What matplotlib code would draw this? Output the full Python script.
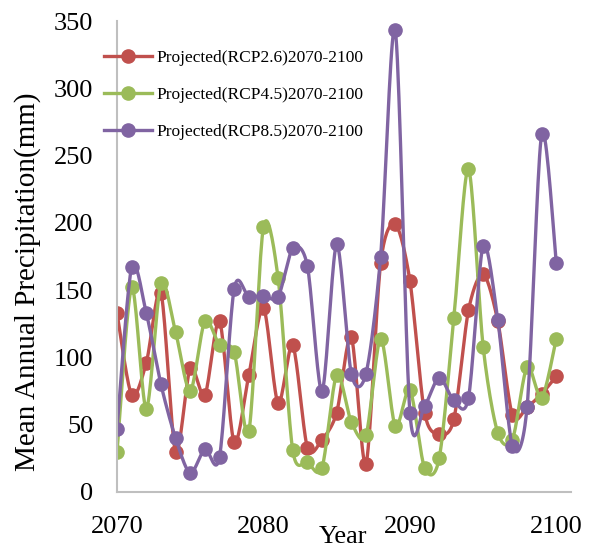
import numpy as np
import matplotlib.pyplot as plt

# mean annual precipitation (mm)
years = list(range(2070, 2101))
rcp26 = [133, 72, 96, 148, 30, 92, 72, 127, 37, 87, 137, 66, 109, 33, 39, 59,
         115, 21, 170, 199, 157, 59, 43, 54, 135, 162, 127, 57, 63, 73, 86]
rcp45 = [30, 152, 62, 155, 119, 75, 127, 109, 104, 45, 197, 159, 31, 22, 18, 87,
         52, 42, 114, 49, 76, 18, 25, 129, 240, 108, 44, 39, 93, 70, 114]
rcp85 = [47, 167, 133, 80, 40, 14, 32, 26, 151, 145, 146, 145, 181, 168, 75, 184,
         88, 88, 175, 343, 59, 64, 85, 68, 70, 183, 128, 34, 63, 266, 170]
labels = ["Projected(RCP2.6)2070-2100", "Projected(RCP4.5)2070-2100",
          "Projected(RCP8.5)2070-2100"]
colors = ["#c0504d", "#9bbb59", "#8064a2"]


def smooth(x, y, n=20, k=1 / 7):
    # bezier curve through the points, like Excel's smoothed line
    x = np.asarray(x, float)
    y = np.asarray(y, float)
    xs, ys = [], []
    last = len(x) - 1
    for i in range(last):
        a, b = max(i - 1, 0), min(i + 2, last)
        c1x = x[i] + (x[i + 1] - x[a]) * k
        c1y = y[i] + (y[i + 1] - y[a]) * k
        c2x = x[i + 1] - (x[b] - x[i]) * k
        c2y = y[i + 1] - (y[b] - y[i]) * k
        t = np.linspace(0, 1, n)
        xs.extend((1 - t)**3 * x[i] + 3 * (1 - t)**2 * t * c1x + 3 * (1 - t) * t**2 * c2x + t**3 * x[i + 1])
        ys.extend((1 - t)**3 * y[i] + 3 * (1 - t)**2 * t * c1y + 3 * (1 - t) * t**2 * c2y + t**3 * y[i + 1])
    return np.array(xs), np.array(ys)


plt.rcParams['font.family'] = ['Liberation Serif', 'DejaVu Serif']

fig = plt.figure(figsize=(5.95, 5.49), dpi=100)
ax = fig.add_axes([117 / 595, 1 - 492 / 549, 454 / 595, 471 / 549])

for ys, lab, c in zip([rcp26, rcp45, rcp85], labels, colors):
    sx, sy = smooth(years, ys)
    ax.plot(sx, sy, color=c, lw=2.4, solid_capstyle='round')
    ax.plot(years, ys, 'o', color=c, ms=9.5)
    ax.plot([], [], '-o', color=c, lw=2.4, ms=9.5, label=lab)

ax.set_xlim(2070, 2101)
ax.set_ylim(0, 350)
ax.set_xticks([2070, 2080, 2090, 2100])
ax.set_yticks(range(0, 351, 50))
ax.tick_params(axis='y', length=0, labelsize=19, pad=17)
ax.tick_params(axis='x', length=0, labelsize=19, pad=17)
for s in ['top', 'right']:
    ax.spines[s].set_visible(False)
for s in ['left', 'bottom']:
    ax.spines[s].set_color('#bfbfbf')
    ax.spines[s].set_linewidth(1.5)

fig.text(28 / 595, 1 - 282 / 549, "Mean Annual Precipitation(mm)", fontsize=21,
         rotation=90, ha='center', va='center')
fig.text(343 / 595, 1 - 537 / 549, "Year", fontsize=19, ha='center', va='center')

ax.legend(loc='upper left', bbox_to_anchor=(-0.029, 0.939), frameon=False,
          fontsize=12.5, handlelength=2.8, handletextpad=0.25, labelspacing=1.2,
          borderaxespad=0, borderpad=0)

fig.savefig("out.png", dpi=100)
